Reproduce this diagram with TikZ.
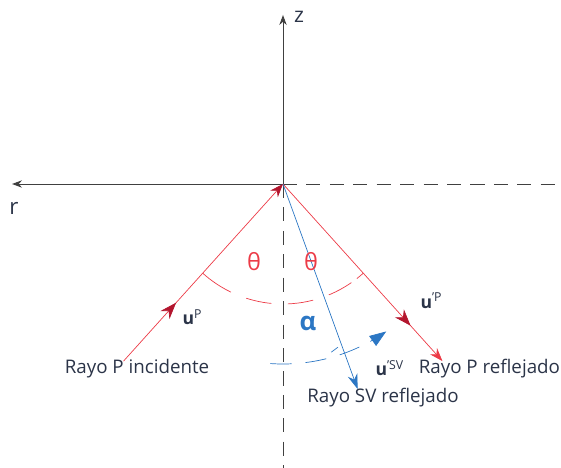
\documentclass[tikz,border=0pt]{standalone}
\usepackage{fontspec}
\setmainfont{Open Sans}
\definecolor{ink}{HTML}{2B3448}
\definecolor{ray}{HTML}{EC3B47}
\definecolor{raydark}{HTML}{B3162E}
\definecolor{sv}{HTML}{2C77C4}
\usetikzlibrary{arrows.meta,decorations.markings}
\tikzset{
  axis/.style={thick,black!75,-{Stealth[length=3mm,width=2.2mm]}},
  guide/.style={thick,black!75,dash pattern=on 12pt off 8pt},
  pray/.style={ray,semithick},
  svray/.style={sv,semithick},
  lbl/.style={text=ink,font=\fontsize{16}{18}\selectfont},
  vec/.style={text=ink,font=\fontsize{15}{17}\selectfont},
  ang/.style={font=\fontsize{20}{22}\selectfont},
  midhead/.style={postaction={decorate},decoration={markings,
      mark=at position #1 with {\arrow[raydark]{Stealth[length=5mm,width=3.6mm]}}}}
}
\begin{document}
\begin{tikzpicture}[font=\small]
    \useasboundingbox (-8.49,-8.52) rectangle (8.34,5.52);
    \coordinate (O) at (0,0);
    \coordinate (ztop) at (0,5.07);
    \coordinate (rend) at (-8.13,0);
    \coordinate (east) at (8.34,0);
    \coordinate (south) at (0,-8.52);
    \coordinate (Pin) at (228:7.15);
    \coordinate (Pout) at (312:7.15);
    \coordinate (SVout) at (290:6.55);
    \draw[guide] (O) -- (east);
    \draw[guide] (O) -- (south);
    \draw[axis] (O) -- (ztop);
    \draw[axis] (O) -- (rend);
    \node[lbl,font=\fontsize{18}{20}\selectfont] (zl) at (0.48,5.0) {z};
    \node[lbl,font=\fontsize{19}{21}\selectfont] (rl) at (-8.07,-0.74) {r};
    \draw[pray,dash pattern=on 22pt off 14pt] (232:3.6) arc[start angle=232,end angle=308,radius=3.6];
    \foreach \a/\b in {228/232,308/312}
      \draw[pray] (\a:3.6) arc[start angle=\a,end angle=\b,radius=3.6];
    \draw[svray,dash pattern=on 18pt off 12pt]
      (266:5.4) arc[start angle=266,end angle=297,radius=5.4];
    \draw[svray,-{Triangle[length=5mm,width=3.6mm]}]
      (299:5.4) arc[start angle=299,end angle=305,radius=5.4];
    \draw[svray] (286:5.25) -- ++(0.2,0.15);
    \draw[pray,midhead=0.33,-{Stealth[raydark,length=4mm,width=3mm]}] (Pin) -- (O);
    \draw[pray,midhead=0.8,-{Stealth[length=4mm,width=2.8mm]}] (O) -- (Pout);
    \draw[svray,-{Stealth[length=4.5mm,width=3mm]}] (O) -- (SVout);
    \node[ang,text=ray] (th1) at (-0.87,-2.34) {θ};
    \node[ang,text=ray] (th2) at (0.84,-2.34) {θ};
    \node[ang,text=sv,font=\fontsize{22}{24}\selectfont\bfseries] (al) at (0.75,-4.17) {α};
    \node[vec] (up) at (-2.72,-4.0) {$\mathbf{u}$\textsuperscript{P}};
    \node[vec] (upr) at (4.45,-3.5) {$\mathbf{u}$\textsuperscript{’P}};
    \node[vec] (usv) at (3.2,-5.52) {$\mathbf{u}$\textsuperscript{’SV}};
    \node[lbl] (pinc) at (-4.38,-5.55) {Rayo P incidente};
    \node[lbl,anchor=west] (pref) at (3.95,-5.55) {Rayo P reflejado};
    \node[lbl] (svref) at (3.0,-6.42) {Rayo SV reflejado};
\end{tikzpicture}
\end{document}
